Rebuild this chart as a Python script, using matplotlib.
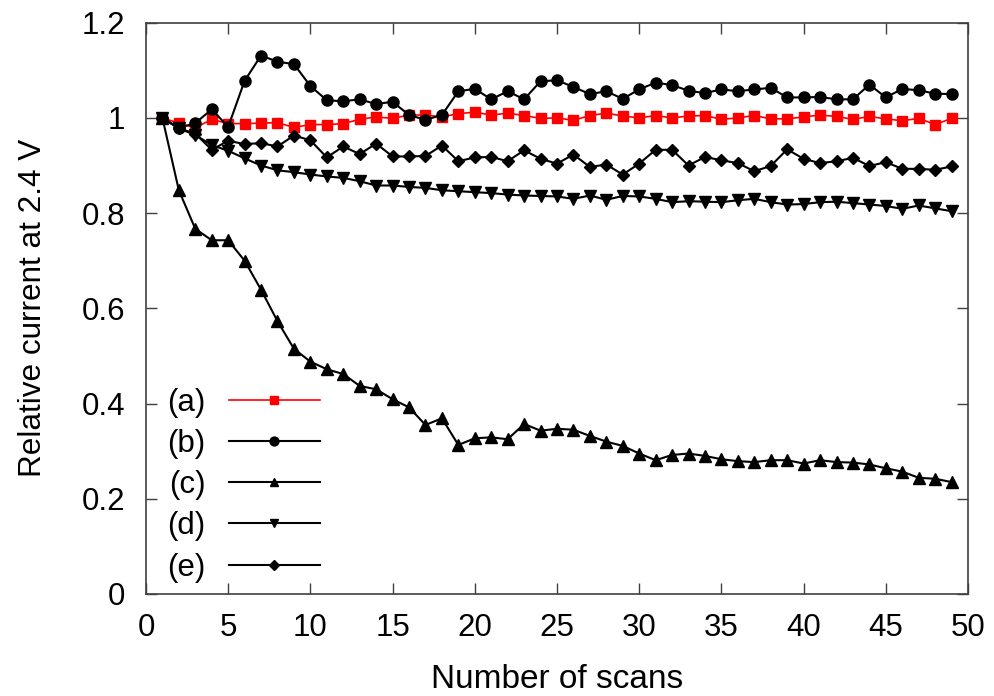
import numpy as np
import matplotlib
matplotlib.use("Agg")
import matplotlib.pyplot as plt

plt.rcParams['font.family'] = ['Liberation Sans', 'DejaVu Sans']

############ DATA ############

scans = np.arange(1, 50)

# (a) red squares
a_vals = [1.000, 0.989, 0.979, 0.997, 0.988, 0.988, 0.989, 0.990, 0.980, 0.986,
          0.986, 0.988, 0.997, 1.002, 0.999, 1.006, 1.006, 1.002, 1.009, 1.012,
          1.006, 1.010, 1.005, 0.999, 1.000, 0.995, 1.005, 1.010, 1.004, 1.000,
          1.005, 1.000, 1.004, 1.005, 0.997, 1.000, 1.005, 0.998, 0.998, 1.002,
          1.006, 1.003, 0.997, 1.003, 0.998, 0.994, 0.999, 0.986, 0.999]

# (b) circles
b_vals = [1.000, 0.979, 0.989, 1.018, 0.981, 1.078, 1.131, 1.118, 1.113, 1.067,
          1.037, 1.035, 1.039, 1.029, 1.034, 1.006, 0.996, 1.006, 1.056, 1.061,
          1.039, 1.056, 1.039, 1.077, 1.079, 1.065, 1.050, 1.056, 1.040, 1.060,
          1.074, 1.069, 1.057, 1.052, 1.060, 1.056, 1.060, 1.063, 1.043, 1.043,
          1.044, 1.039, 1.039, 1.070, 1.043, 1.061, 1.058, 1.051, 1.050]

# (c) up triangles
c_vals = [1.000, 0.848, 0.767, 0.743, 0.743, 0.700, 0.639, 0.573, 0.515, 0.488,
          0.472, 0.462, 0.437, 0.430, 0.409, 0.392, 0.355, 0.369, 0.313, 0.327,
          0.329, 0.325, 0.357, 0.343, 0.347, 0.345, 0.332, 0.320, 0.311, 0.295,
          0.281, 0.292, 0.295, 0.290, 0.283, 0.279, 0.277, 0.281, 0.281, 0.274,
          0.281, 0.277, 0.276, 0.272, 0.264, 0.257, 0.244, 0.242, 0.235]

# (d) down triangles
d_vals = [1.000, 0.978, 0.964, 0.943, 0.931, 0.915, 0.900, 0.890, 0.886, 0.881,
          0.877, 0.874, 0.867, 0.858, 0.858, 0.855, 0.853, 0.848, 0.846, 0.844,
          0.842, 0.839, 0.837, 0.836, 0.835, 0.830, 0.837, 0.828, 0.836, 0.835,
          0.830, 0.823, 0.825, 0.824, 0.823, 0.827, 0.830, 0.823, 0.818, 0.819,
          0.823, 0.824, 0.821, 0.818, 0.815, 0.809, 0.816, 0.810, 0.804]

# (e) diamonds
e_vals = [1.000, 0.978, 0.967, 0.933, 0.952, 0.945, 0.947, 0.940, 0.963, 0.953,
          0.917, 0.940, 0.924, 0.946, 0.919, 0.919, 0.920, 0.942, 0.909, 0.917,
          0.918, 0.909, 0.932, 0.914, 0.904, 0.923, 0.897, 0.902, 0.881, 0.904,
          0.933, 0.933, 0.900, 0.918, 0.911, 0.905, 0.888, 0.899, 0.934, 0.914,
          0.905, 0.909, 0.916, 0.899, 0.907, 0.893, 0.893, 0.891, 0.898]

labels = ['(a)', '(b)', '(c)', '(d)', '(e)']
xticks = np.arange(0, 51, 5)
yticks = [0, 0.2, 0.4, 0.6, 0.8, 1, 1.2]

############ PLOT ############

fig = plt.figure(figsize=(9.95, 6.96), dpi=100)
ax = fig.add_axes([0.1467, 0.1466, 0.8262, 0.8208])

ax.plot(scans, a_vals, color='red', lw=1.2, marker='s', ms=7, label=labels[0])
ax.plot(scans, b_vals, color='black', lw=1.5, marker='o', ms=8, label=labels[1])
ax.plot(scans, c_vals, color='black', lw=1.5, marker='^', ms=8, label=labels[2])
ax.plot(scans, d_vals, color='black', lw=1.5, marker='v', ms=8, label=labels[3])
ax.plot(scans, e_vals, color='black', lw=1.5, marker='D', ms=6, label=labels[4])

ax.set_xlim(0, 50)
ax.set_ylim(0, 1.2)
ax.set_xticks(xticks)
ax.set_yticks(yticks)
ax.set_yticklabels(['%g' % v for v in yticks])
ax.tick_params(direction='in', length=8, width=1, top=True, right=True,
               labelsize=22.5, pad=14, color='#404040')
ax.tick_params(axis='y', pad=15)
for s in ax.spines.values():
    s.set_color('#404040')
    s.set_linewidth(1.2)

ax.set_xlabel('Number of scans', fontsize=24, labelpad=15)
ax.set_ylabel('Relative current at 2.4 V', fontsize=22.7, labelpad=24)

leg = ax.legend(loc='lower left', bbox_to_anchor=(0.026, 0.02), frameon=False,
                markerfirst=False, fontsize=22.5, handlelength=2.9,
                labelspacing=0.36, borderaxespad=0, borderpad=0,
                handletextpad=0.75, markerscale=0.8)

fig.savefig('out.png', dpi=100)
